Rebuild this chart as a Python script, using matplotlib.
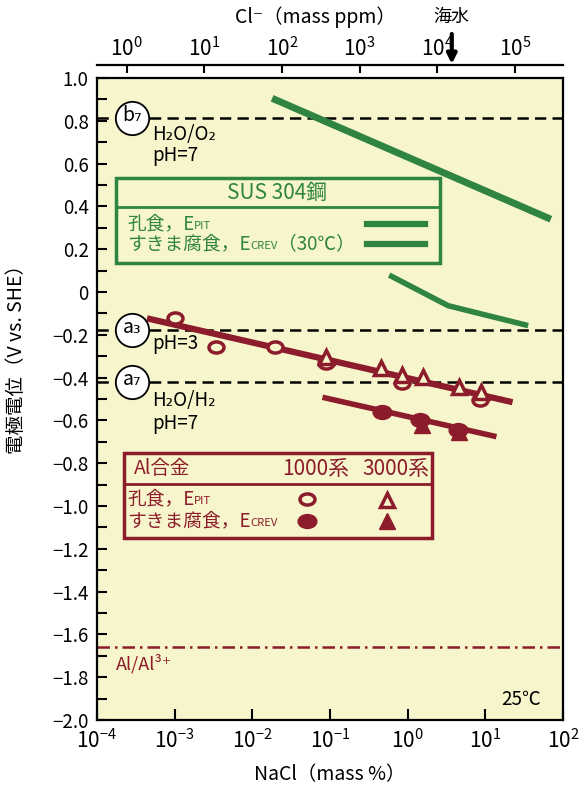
import numpy as np
import matplotlib
matplotlib.use("Agg")
import matplotlib.pyplot as plt
from matplotlib.markers import MarkerStyle
from matplotlib.transforms import Affine2D
from matplotlib.patches import Rectangle
from matplotlib.ticker import LogLocator, NullLocator, MultipleLocator, FixedLocator, FixedFormatter

plt.rcParams['font.family'] = ['Noto Sans CJK JP', 'DejaVu Sans']

GREEN = '#2E8440'
RED = '#8C1C2C'
BG = '#F7F5CB'

# SUS304 steel (NaCl mass %, V vs SHE)
sus_pit_nacl = [0.018, 69.7]
sus_pit_e = [0.905, 0.340]
sus_crev_nacl = [0.578, 3.32, 35.6]
sus_crev_e = [0.079, -0.064, -0.157]

# Al alloys: fitted lines
al_pit_nacl = [4.4e-4, 22.4]
al_pit_e = [-0.123, -0.515]
al_crev_nacl = [0.080, 13.9]
al_crev_e = [-0.492, -0.676]

# Al alloys: measured points
a1000_pit_nacl = [1.0e-3, 3.4e-3, 0.0195, 0.088, 0.835, 8.5]
a1000_pit_e = [-0.123, -0.256, -0.256, -0.333, -0.424, -0.505]
a3000_pit_nacl = [0.088, 0.448, 0.835, 1.58, 4.56, 8.67]
a3000_pit_e = [-0.302, -0.357, -0.388, -0.396, -0.442, -0.466]
a1000_crev_nacl = [0.461, 1.435, 4.47]
a1000_crev_e = [-0.559, -0.598, -0.645]
a3000_crev_nacl = [1.51, 4.57]
a3000_crev_e = [-0.621, -0.652]

# reference potentials
ref_names = ['b₇', 'a₃', 'a₇']
ref_e = [0.815, -0.177, -0.42]
al_equil_e = -1.66

CL_PER_NACL = 4150.0   # mass ppm Cl per mass % NaCl (as drawn)
SEAWATER_NACL = 3.7
cl_ticks = [1e0, 1e1, 1e2, 1e3, 1e4, 1e5]

ytick_vals = [1.0, 0.8, 0.6, 0.4, 0.2, 0.0, -0.2, -0.4, -0.6, -0.8, -1.0,
              -1.2, -1.4, -1.6, -1.8, -2.0]
ytick_text = ['1.0', '0.8', '0.6', '0.4', '0.2', '0', '−0.2', '−0.4', '−0.6',
              '−0.8', '−1.0', '−1.2', '−1.4', '−1.6', '−1.8', '−2.0']

fig = plt.figure(figsize=(5.87, 7.85), dpi=100)
ax = fig.add_axes([97 / 587, 1 - 720 / 785, 466 / 587, 642 / 785])
ax.set_facecolor(BG)
ax.set_xscale('log')
ax.set_xlim(1e-4, 1e2)
ax.set_ylim(-2.0, 1.0)

for s in ax.spines.values():
    s.set_linewidth(1.6)

# dashed reference lines and Al/Al3+ line
for e in ref_e:
    ax.axhline(e, color='k', lw=1.8, ls=(0, (4.5, 2.5)), zorder=2)
ax.axhline(al_equil_e, color=RED, lw=1.8, ls=(0, (5, 2, 1, 2)), zorder=2)

# SUS304 lines
ax.plot(sus_pit_nacl, sus_pit_e, color=GREEN, lw=5, solid_capstyle='butt', zorder=3)
ax.plot(sus_crev_nacl, sus_crev_e, color=GREEN, lw=4, solid_capstyle='butt', zorder=3)

# Al lines
ax.plot(al_pit_nacl, al_pit_e, color=RED, lw=4.5, solid_capstyle='butt', zorder=3)
ax.plot(al_crev_nacl, al_crev_e, color=RED, lw=4, solid_capstyle='butt', zorder=3)

oval = MarkerStyle('o', transform=Affine2D().scale(1.35, 1.0))
ax.plot(a1000_pit_nacl, a1000_pit_e, ls='none', marker=oval, ms=8, mfc=BG,
        mec=RED, mew=2.5, zorder=4)
ax.plot(a3000_pit_nacl, a3000_pit_e, ls='none', marker='^', ms=10, mfc=BG,
        mec=RED, mew=2.5, zorder=4)
ax.plot(a1000_crev_nacl, a1000_crev_e, ls='none', marker=oval, ms=10, color=RED, zorder=4)
ax.plot(a3000_crev_nacl, a3000_crev_e, ls='none', marker='^', ms=12, color=RED, zorder=4)

# circled labels on reference lines
for name, e in zip(ref_names, ref_e):
    ax.plot([10 ** -3.55], [e], marker='o', ms=24, mfc='white', mec='k', mew=1.3, zorder=5)
    ax.text(10 ** -3.55, e + 0.01, name, ha='center', va='center', fontsize=14, zorder=6)

ax.text(10 ** -3.29, 0.735, 'H₂O/O₂', fontsize=13.5, va='center')
ax.text(10 ** -3.29, 0.64, 'pH=7', fontsize=13.5, va='center')
ax.text(10 ** -3.29, -0.24, 'pH=3', fontsize=13.5, va='center')
ax.text(10 ** -3.29, -0.505, 'H₂O/H₂', fontsize=13.5, va='center')
ax.text(10 ** -3.29, -0.615, 'pH=7', fontsize=13.5, va='center')
ax.text(10 ** -3.75, -1.735, 'Al/Al³⁺', fontsize=13, va='center', color=RED)
ax.text(10 ** 1.2, -1.905, '25℃', fontsize=13.5, va='center')


def sub_label(x, y, main, sub, color, tail=None, size=13.5):
    t = ax.text(x, y, main, transform=ax.transAxes, color=color, fontsize=size, va='center')
    s = ax.annotate(sub, xy=(1.0, 0.27), xycoords=t, fontsize=size * 0.6, color=color,
                    va='baseline', ha='left')
    if tail:
        ax.annotate(tail, xy=(1.0, 0.5), xycoords=(s, t), fontsize=size, color=color,
                    va='center', ha='left')


def fx(px):
    return (px - 97) / 466


def fy(py):
    return (720 - py) / 642


# SUS304 legend box
ax.add_patch(Rectangle((fx(116), fy(263)), fx(440) - fx(116), fy(178) - fy(263),
                       transform=ax.transAxes, fill=False, ec=GREEN, lw=2.5, zorder=6))
ax.plot([fx(116), fx(440)], [fy(207), fy(207)], transform=ax.transAxes, color=GREEN, lw=2)
ax.text(fx(277), fy(193), 'SUS 304鋼', transform=ax.transAxes, color=GREEN,
        fontsize=15, ha='center', va='center')
sub_label(fx(127), fy(224), '孔食，E', 'PIT', GREEN)
sub_label(fx(127), fy(244), 'すきま腐食，E', 'CREV', GREEN, '（30℃）')
ax.plot([fx(367), fx(425)], [fy(224), fy(224)], transform=ax.transAxes, color=GREEN, lw=4.5)
ax.plot([fx(367), fx(425)], [fy(244), fy(244)], transform=ax.transAxes, color=GREEN, lw=4.5)

# Al alloy legend box
ax.add_patch(Rectangle((fx(124), fy(538)), fx(432) - fx(124), fy(453) - fy(538),
                       transform=ax.transAxes, fill=False, ec=RED, lw=2.5, zorder=6))
ax.plot([fx(124), fx(432)], [fy(484), fy(484)], transform=ax.transAxes, color=RED, lw=2)
ax.text(fx(134), fy(469), 'Al合金', transform=ax.transAxes, color=RED, fontsize=14, va='center')
ax.text(fx(316), fy(469), '1000系', transform=ax.transAxes, color=RED, fontsize=15,
        ha='center', va='center')
ax.text(fx(396), fy(469), '3000系', transform=ax.transAxes, color=RED, fontsize=15,
        ha='center', va='center')
sub_label(fx(127), fy(499), '孔食，E', 'PIT', RED)
sub_label(fx(127), fy(521), 'すきま腐食，E', 'CREV', RED)
ax.plot([fx(307)], [fy(499)], transform=ax.transAxes, marker=oval, ms=8, mfc=BG,
        mec=RED, mew=2.5)
ax.plot([fx(387)], [fy(500)], transform=ax.transAxes, marker='^', ms=10, mfc=BG,
        mec=RED, mew=2.5)
ax.plot([fx(307)], [fy(521)], transform=ax.transAxes, marker=oval, ms=10, color=RED)
ax.plot([fx(387)], [fy(521)], transform=ax.transAxes, marker='^', ms=12, color=RED)

# ticks
ax.xaxis.set_major_locator(LogLocator(base=10, numticks=10))
ax.xaxis.set_minor_locator(NullLocator())
ax.tick_params(axis='x', which='major', direction='in', length=8, width=1.5,
               labelsize=15, pad=7)
ax.yaxis.set_major_locator(FixedLocator(ytick_vals))
ax.yaxis.set_major_formatter(FixedFormatter(ytick_text))
ax.yaxis.set_minor_locator(MultipleLocator(0.1))
ax.tick_params(axis='y', which='both', direction='in', length=7, width=1.5,
               labelsize=13.5, pad=6)

ax.set_xlabel('NaCl（mass %）', fontsize=14, labelpad=8)
ax.set_ylabel('電極電位（V vs. SHE）', fontsize=14)
ax.yaxis.set_label_coords(-0.15, 0.57)

# top Cl- axis
secax = ax.secondary_xaxis(1 + 13 / 642, functions=(lambda x: x * CL_PER_NACL,
                                                    lambda x: x / CL_PER_NACL))
secax.xaxis.set_major_locator(FixedLocator(cl_ticks))
secax.xaxis.set_minor_locator(NullLocator())
secax.tick_params(axis='x', direction='in', length=6, width=1.5, labelsize=15, pad=3)
secax.spines['top'].set_linewidth(1.6)
ax.text(fx(315), fy(17), 'Cl⁻（mass ppm）', transform=ax.transAxes, fontsize=14,
        ha='center', va='center')

# seawater arrow
ax.annotate('', xy=(SEAWATER_NACL, fy(64)), xycoords=('data', 'axes fraction'),
            xytext=(SEAWATER_NACL, fy(34)), textcoords=('data', 'axes fraction'),
            arrowprops=dict(arrowstyle='-|>', lw=3, color='k', mutation_scale=14,
                            shrinkA=0, shrinkB=0))
ax.annotate('海水', xy=(SEAWATER_NACL, fy(17)), xycoords=('data', 'axes fraction'),
            fontsize=13, ha='center', va='center')

fig.savefig('out.png', dpi=100, facecolor='white')
